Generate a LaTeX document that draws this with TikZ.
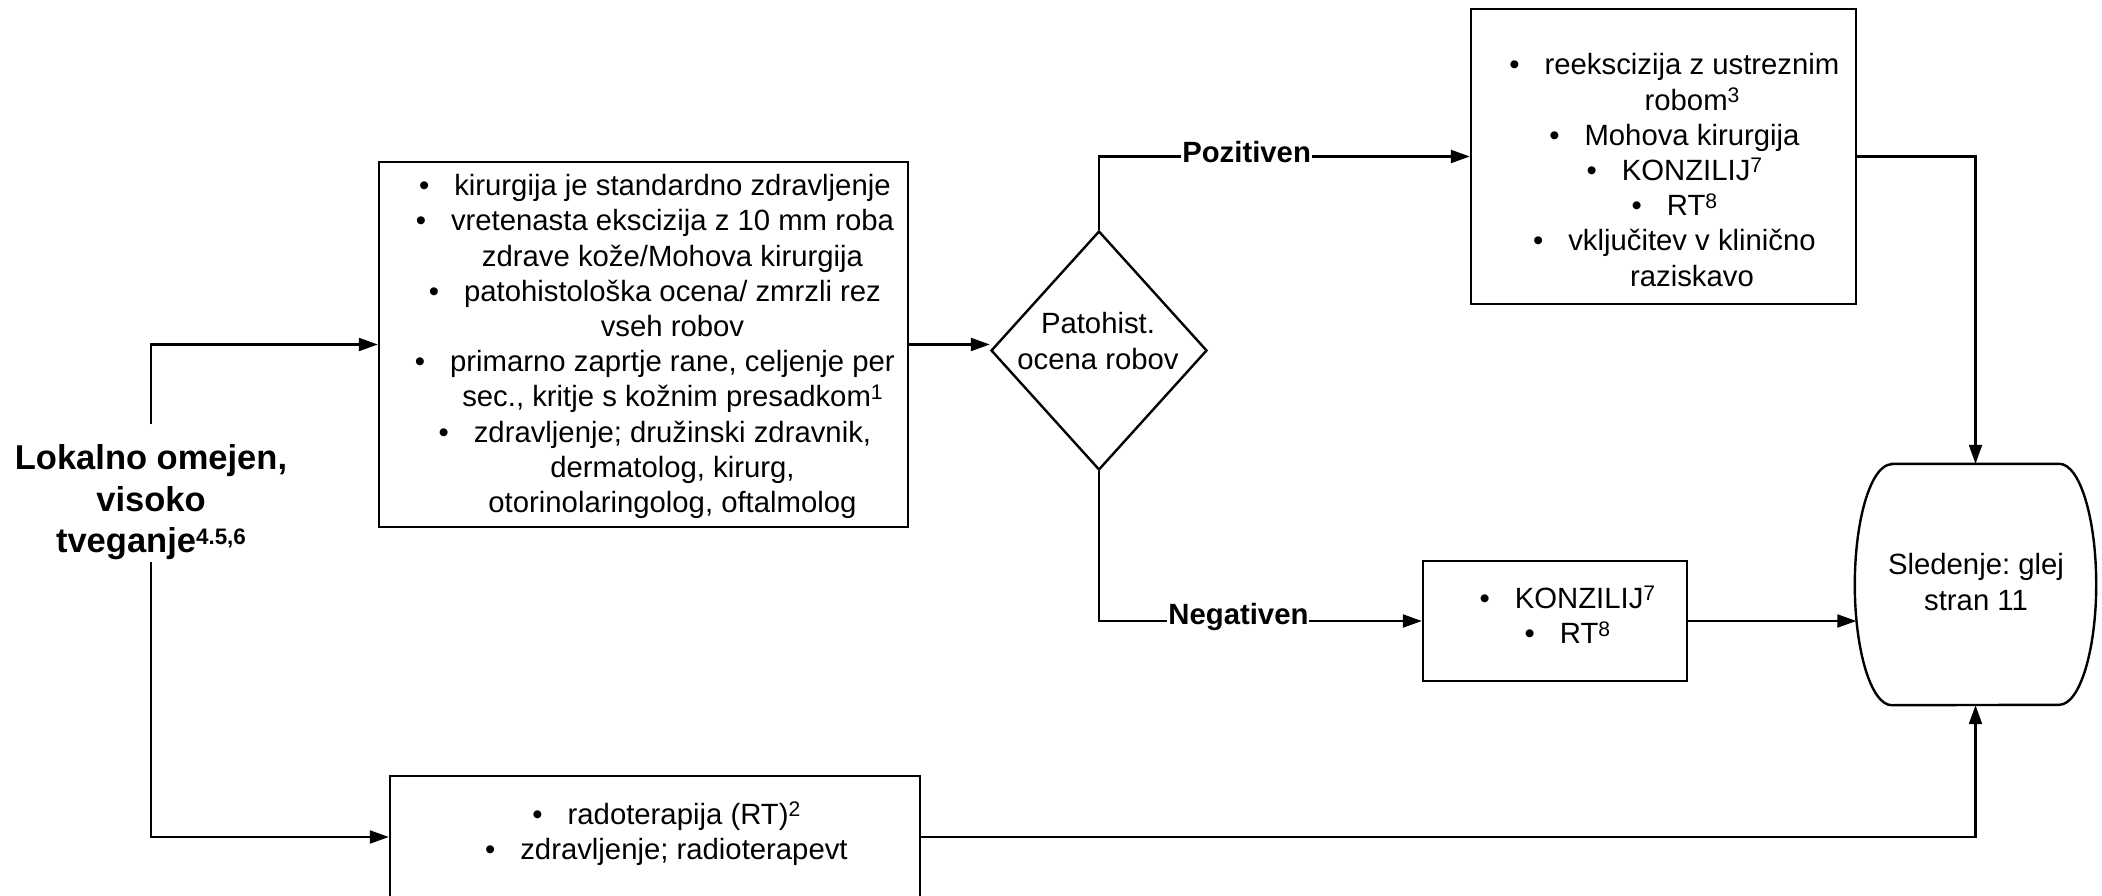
\documentclass[tikz,border=0pt]{standalone}
\usepackage{fontspec}
\setmainfont{Liberation Sans}
\usetikzlibrary{shapes.geometric, arrows.meta}
\frenchspacing
% small raised numbers (footnote references)
\newcommand\upx[1]{\raisebox{0.26em}{\scalebox{0.72}{#1}}}
\newcommand\upy[1]{\raisebox{0.23em}{\scalebox{0.65}{#1}}}
% hanging bullet in front of a centred line
\newcommand\bul{\llap{\textbullet\hspace{25pt}}}
\begin{document}
\begin{tikzpicture}[x=1pt, y=-1pt,
  box/.style={draw, rectangle, inner sep=0pt, line width=2.4pt},
  txt/.style={align=center, font=\fontsize{29.3}{35.2}\selectfont, inner sep=0pt},
  arr/.style={-{Triangle[length=19pt,width=13pt]}, line width=2.2pt},
  lbl/.style={font=\bfseries\fontsize{29.3}{30}\selectfont, fill=white, inner sep=1pt}]
\useasboundingbox (0,0) rectangle (2102,896);
\clip (0,0) rectangle (2102,896);

% start label
\node[font=\bfseries\fontsize{34.5}{41.5}\selectfont, align=center, inner sep=0pt] (lab) at (151,502.5)
  {Lokalno omejen,\\ visoko\\ tveganje\upy{4.5,6}};
\coordinate (labtop) at (151,424);
\coordinate (labbot) at (151,562);

% surgery box
\node[box, minimum width=529pt, minimum height=365pt] (b1) at (643.5,344.5) {};
\node[txt] (b1t) at (672.5,346.5) {\bul kirurgija je standardno zdravljenje\\
  \bul vretenasta ekscizija z 10 mm roba\\
  zdrave kože/Mohova kirurgija\\
  \bul patohistološka ocena/ zmrzli rez\\
  vseh robov\\
  \bul primarno zaprtje rane, celjenje per\\
  sec., kritje s kožnim presadkom\upx{1}\\
  \bul zdravljenje; družinski zdravnik,\\
  dermatolog, kirurg,\\
  otorinolaringolog, oftalmolog};

% decision
\node[draw, diamond, minimum width=216pt, minimum height=239pt, inner sep=0pt, line width=2.4pt] (d) at (1099,350.5) {};
\node[txt] (dt) at (1098,341) {Patohist.\\ ocena robov};

% positive margins
\node[box, minimum width=385pt, minimum height=295pt] (b3) at (1663.5,156.5) {};
\node[txt] (b3t) at (1692,170) {\bul reekscizija z ustreznim\\
  robom\upx{3}\\
  \bul Mohova kirurgija\\
  \bul KONZILIJ\upx{7}\\
  \bul RT\upx{8}\\
  \bul vključitev v klinično\\
  raziskavo};

% negative margins
\node[box, minimum width=264pt, minimum height=120pt] (b4) at (1555,621) {};
\node[txt] (b4t) at (1585,615) {\bul KONZILIJ\upx{7}\\ \bul RT\upx{8}};

% radiotherapy
\node[box, minimum width=530pt, minimum height=122pt] (b5) at (655,837) {};
\node[txt] (b5t) at (684,834) {\bul radoterapija (RT)\upx{2}\\ \bul zdravljenje; radioterapevt};

% follow-up terminal
\node[minimum width=241pt, minimum height=241pt, inner sep=0pt] (fu) at (1975.5,584.5) {};
\draw[line width=2.4pt] ([xshift=37pt]fu.north west) -- ([xshift=-37pt]fu.north east)
  arc[start angle=90, end angle=-90, x radius=37pt, y radius=120.5pt]
  -- ([xshift=37pt]fu.south west)
  arc[start angle=270, end angle=90, x radius=37pt, y radius=120.5pt] -- cycle;
\node[txt] (fut) at (1976,582) {Sledenje: glej\\ stran 11};
\path (fu.west |- b4.east) ++(1.5,0) coordinate (fuw);

% connectors
\draw[arr] (labtop) |- (b1.west);
\draw[arr] (labbot) |- (b5.west);
\draw[arr] (b1.east) -- (b1.east -| d.west);
\draw[arr] (d.north) |- node[lbl, pos=0.699, yshift=4pt] {Pozitiven} (b3.west);
\draw[arr] (d.south) |- node[lbl, pos=0.716, yshift=4pt] {Negativen} (b4.west);
\draw[arr] (b3.east) -| (fu.north);
\draw[arr] (b4.east) -- (fuw);
\draw[arr] (b5.east) -| (fu.south);
\end{tikzpicture}
\end{document}
